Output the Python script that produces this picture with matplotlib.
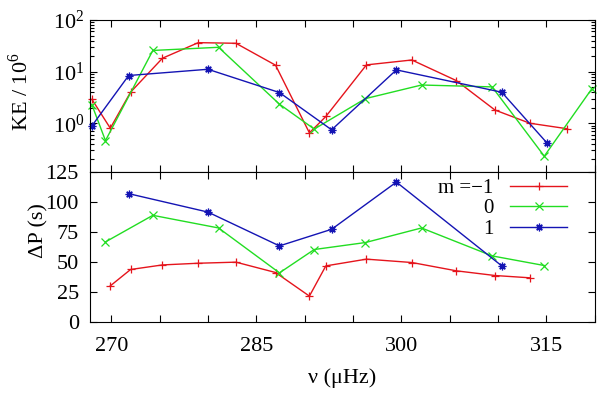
import matplotlib
matplotlib.use("Agg")
import matplotlib.pyplot as plt
from matplotlib.ticker import MultipleLocator, FuncFormatter, LogLocator, NullFormatter

plt.rcParams['font.family'] = ['Liberation Serif', 'DejaVu Serif']
plt.rcParams['mathtext.fontset'] = 'custom'
plt.rcParams['mathtext.rm'] = 'Liberation Serif'
plt.rcParams['font.size'] = 15

# mode frequencies (uHz) and kinetic energy (KE / 10^6)
nu_m1 = [268.0, 269.9, 272.0, 275.3, 279.0, 282.9, 287.0, 290.5, 292.2, 296.4, 301.1, 305.7, 309.7, 313.3, 317.2]
ke_m1 = [2.9, 0.80, 4.0, 18.2, 36.4, 35.4, 13.3, 0.65, 1.35, 13.5, 16.8, 6.7, 1.8, 1.0, 0.78]

nu_0 = [268.0, 269.4, 274.3, 281.1, 287.4, 291.0, 296.3, 302.1, 309.4, 314.8, 319.7]
ke_0 = [2.27, 0.46, 25.7, 29.6, 2.34, 0.77, 3.0, 5.5, 5.06, 0.23, 4.6]

nu_1 = [268.0, 271.8, 280.0, 287.4, 292.8, 299.5, 310.4, 315.1]
ke_1 = [0.89, 8.4, 11.1, 3.93, 0.745, 10.8, 3.99, 0.41]

# period spacing (s)
dp_m1 = [30.0, 43.6, 47.4, 48.8, 49.7, 41.1, 21.5, 46.6, 52.2, 49.4, 42.5, 38.6, 36.7]
dp_0 = [66.5, 88.6, 78.1, 40.8, 60.2, 66.0, 78.1, 54.9, 46.9]
dp_1 = [106.6, 91.3, 63.2, 77.0, 116.2, 46.6]

labels = ['m =\u22121', '0', '1']
colors = ['#e5141c', '#22dd22', '#1414b4']
markers = ['+', 'x', (8, 2, 0)]

fig = plt.figure(figsize=(6, 3.93), dpi=100)
ax1 = fig.add_axes([0.15, 0.5636, 0.8417, 0.3855])
ax2 = fig.add_axes([0.15, 0.1807, 0.8417, 0.3829])

series = [(nu_m1, ke_m1, dp_m1), (nu_0, ke_0, dp_0), (nu_1, ke_1, dp_1)]
for (nu, ke, dp), c, m, lab in zip(series, colors, markers, labels):
    ax1.plot(nu, ke, color=c, marker=m, ms=5.5, mew=0.9, lw=1.0, clip_on=False)
    ax2.plot(nu[1:-1], dp, color=c, marker=m, ms=5.5, mew=0.9, lw=1.0, label=lab)

for ax in (ax1, ax2):
    ax.set_xlim(267.8, 320.05)
    ax.xaxis.set_major_locator(MultipleLocator(5))
    ax.tick_params(which='both', direction='in', top=True, right=True, labelsize=16)
    ax.tick_params(which='major', length=5, width=0.8)
    ax.tick_params(which='minor', length=3, width=0.8)

ax1.set_yscale('log')
ax1.set_ylim(0.116, 100)
ax1.yaxis.set_major_locator(LogLocator(base=10, numticks=10))
ax1.yaxis.set_minor_locator(LogLocator(base=10, subs=range(2, 10), numticks=10))
ax1.yaxis.set_minor_formatter(NullFormatter())
ax1.tick_params(axis='x', labelbottom=False)
ax1.tick_params(axis='y', pad=4)
ax1.set_ylabel('KE / 10$^6$', fontsize=16)
ax1.yaxis.set_label_coords(-0.113, 0.525)

ax2.set_ylim(0, 125)
ax2.yaxis.set_major_locator(MultipleLocator(25))
ax2.xaxis.set_major_formatter(FuncFormatter(lambda v, p: '%d' % v if round(v) % 15 == 0 else ''))
ax2.tick_params(axis='y', pad=8)
ax2.tick_params(axis='x', pad=10.5)
ax2.set_ylabel('\u0394P (s)', fontsize=16)
ax2.yaxis.set_label_coords(-0.083, 0.605)
ax2.set_xlabel('\u03bd (\u03bcHz)', labelpad=9, fontsize=16)

ax2.legend(loc='upper right', bbox_to_anchor=(0.945, 0.955), frameon=False,
           markerfirst=False, handlelength=2.75, handletextpad=0.8,
           labelspacing=0.05, borderpad=0, borderaxespad=0, fontsize=15)

fig.savefig('out.png', dpi=100)
